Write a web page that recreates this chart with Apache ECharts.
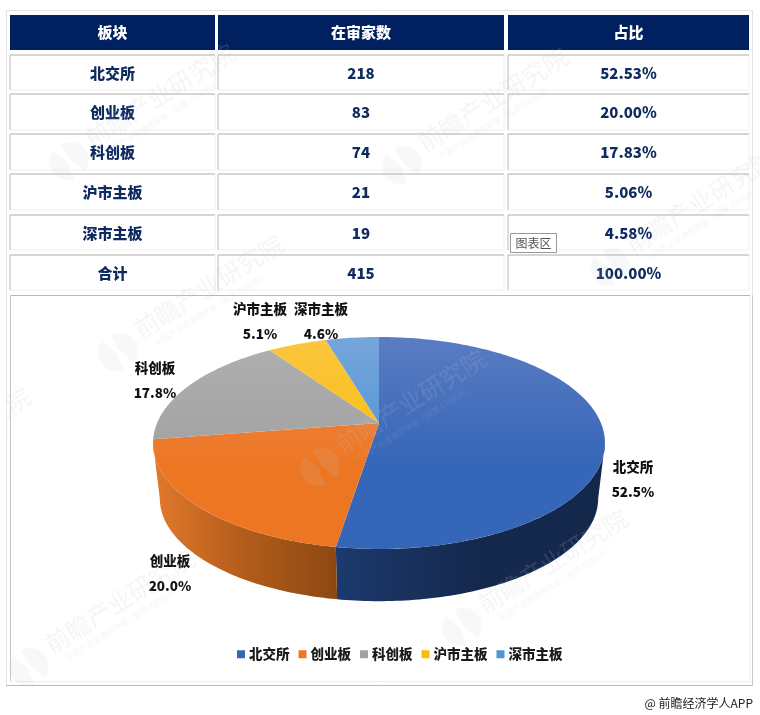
<!DOCTYPE html>
<html>
<head>
<meta charset="utf-8">
<style>
html, body { margin: 0; padding: 0; background: #fff; }
#main { width: 760px; height: 715px; }
</style>
<script src="https://cdn.jsdelivr.net/npm/echarts@6/dist/echarts.min.js"></script>
</head>
<body>
<div id="main"></div>
<script>
const tableHeaders = ['板块', '在审家数', '占比'];
const categories = ['北交所', '创业板', '科创板', '沪市主板', '深市主板'];
const counts = [218, 83, 74, 21, 19];
const ratioLabels = ['52.53%', '20.00%', '17.83%', '5.06%', '4.58%'];
const pieLabels = ['52.5%', '20.0%', '17.8%', '5.1%', '4.6%'];
const totalLabel = '合计';
const totalCount = 415;
const totalRatio = '100.00%';

const FONT = '"Noto Sans CJK SC", "Noto Sans", sans-serif';
const NAVY = '#0f2a5e';

// 饼图透视参数
const CX = 379, APEX = 423, TILT = 102.2, RADIUS = 221.9, PERSP = 0.1887;
const BOTTOM_SCALE = 0.97, BOTTOM_APEX = 479;
const FRONT_FROM = 100.9, FRONT_TO = 259.1;

const sliceColors = ['#3566b8', '#ed7623', '#a1a1a1', '#f8bd0b', '#4f96d6'];
const sliceTopColors = ['#5a7cc2', '#ee8d55', '#b0b0b0', '#fbc640', '#76a5da'];
const wallColors = [
    ['#1c3a6e', '#15294f', '#14284c'],
    ['#e2792b', '#b25c1b', '#8c4812'],
    ['#999', '#888', '#777'],
    ['#c09000', '#b08400', '#a07800'],
    ['#3a70a0', '#356690', '#305c85']
];
const labelAnchors = [[633, 467], [170, 561], [155, 368], [260, 309], [321, 309]];

const colX = [[10, 215], [218, 504], [508, 749]];
const rowY = [[55, 90], [94, 130], [134, 170], [174, 210], [215, 250], [255, 290]];
const watermarks = [[69, 161], [402, 165], [118, 352], [610, 267], [320, 467], [462, 627], [29, 667], [-135, 505]];

const total = counts.reduce((a, b) => a + b, 0);

function project(deg, scale, apex) {
    const t = deg * Math.PI / 180;
    const x = Math.sin(t), y = Math.cos(t);
    const w = 1 + PERSP * y;
    return [CX + scale * RADIUS * x / w, apex - scale * TILT * y / w];
}

function arc(from, to, scale, apex) {
    const pts = [];
    const n = Math.max(2, Math.ceil(to - from));
    for (let i = 0; i <= n; i++) {
        pts.push(project(from + (to - from) * i / n, scale, apex));
    }
    return pts;
}

function renderSlice(params, api) {
    const idx = params.seriesIndex;
    const before = counts.slice(0, idx).reduce((a, b) => a + b, 0);
    const start = before / total * 360;
    const end = start + api.value(0) / total * 360;
    const children = [];

    // 侧面
    const wallFrom = Math.max(start, FRONT_FROM);
    const wallTo = Math.min(end, FRONT_TO);
    if (wallTo > wallFrom) {
        const topEdge = arc(wallFrom, wallTo, 1, APEX);
        const bottomEdge = arc(wallFrom, wallTo, BOTTOM_SCALE, BOTTOM_APEX).reverse();
        children.push({
            type: 'polygon',
            shape: { points: topEdge.concat(bottomEdge) },
            style: {
                fill: {
                    type: 'linear', x: 0, y: 0, x2: 1, y2: 0,
                    colorStops: [
                        { offset: 0, color: wallColors[idx][0] },
                        { offset: 0.5, color: wallColors[idx][1] },
                        { offset: 1, color: wallColors[idx][2] }
                    ]
                }
            }
        });
    }

    // 顶面
    children.push({
        type: 'polygon',
        shape: { points: [[CX, APEX]].concat(arc(start, end, 1, APEX)) },
        style: {
            fill: {
                type: 'linear', global: true, x: 0, y: 337, x2: 0, y2: 465,
                colorStops: [
                    { offset: 0, color: sliceTopColors[idx] },
                    { offset: 1, color: sliceColors[idx] }
                ]
            }
        }
    });

    // 标签
    children.push({
        type: 'text',
        z2: 10,
        style: {
            x: labelAnchors[idx][0],
            y: labelAnchors[idx][1] - 12,
            text: categories[idx] + '\n' + pieLabels[idx],
            font: '900 13.5px ' + FONT,
            lineHeight: 24.5,
            fill: '#111',
            align: 'center',
            verticalAlign: 'top'
        }
    });
    return { type: 'group', children: children };
}

function cell(x0, x1, y0, y1, text) {
    return [
        { type: 'rect', shape: { x: x0, y: y0, width: x1 - x0, height: y1 - y0 }, style: { fill: '#fff', stroke: '#f0f0f0', lineWidth: 1 } },
        { type: 'line', shape: { x1: x0, y1: y0, x2: x1, y2: y0 }, style: { stroke: '#b4b4b4', lineWidth: 1.2 } },
        { type: 'line', shape: { x1: x0, y1: y0, x2: x0, y2: y1 }, style: { stroke: '#c0c0c0', lineWidth: 1 } },
        {
            type: 'text',
            style: {
                x: (x0 + x1) / 2, y: (y0 + y1) / 2 + 0.5, text: text, font: '900 15px ' + FONT,
                fill: NAVY, align: 'center', verticalAlign: 'middle'
            }
        }
    ];
}

function watermark(p) {
    const logoFill = 'rgba(195,200,212,0.13)';
    const textFill = 'rgba(190,195,205,0.17)';
    return {
        type: 'group', z: 60, x: p[0], y: p[1], rotation: 32 * Math.PI / 180,
        children: [
            { type: 'sector', z: 60, shape: { cx: -2, cy: 0, r: 18, r0: 0, startAngle: Math.PI * 0.55, endAngle: Math.PI * 1.4 }, style: { fill: logoFill } },
            { type: 'sector', z: 60, shape: { cx: 2, cy: 0, r: 18, r0: 0, startAngle: Math.PI * 1.5, endAngle: Math.PI * 2.4 }, style: { fill: logoFill } },
            { type: 'text', z: 60, style: { x: 26, y: -20, text: '前瞻产业研究院', font: '24.5px ' + FONT, fill: textFill } },
            { type: 'text', z: 60, style: { x: 36, y: 9, text: '中国产业咨询领导者（股票 839599）', font: '8px ' + FONT, fill: textFill } }
        ]
    };
}

function buildGraphics() {
    const g = [];
    // 外框
    g.push({ type: 'rect', shape: { x: 6.5, y: 10.5, width: 746, height: 675 }, style: { fill: '#fff', stroke: '#e4e4e4', lineWidth: 1 } });
    // 表头
    tableHeaders.forEach((h, i) => {
        g.push({ type: 'rect', shape: { x: colX[i][0], y: 15, width: colX[i][1] - colX[i][0], height: 35 }, style: { fill: '#00205f' } });
        g.push({
            type: 'text',
            style: {
                x: (colX[i][0] + colX[i][1]) / 2, y: 32.5, text: h, font: '900 15px ' + FONT,
                fill: '#fff', align: 'center', verticalAlign: 'middle'
            }
        });
    });
    // 表格内容
    const rows = categories.map((c, i) => [c, String(counts[i]), ratioLabels[i]]);
    rows.push([totalLabel, String(totalCount), totalRatio]);
    rows.forEach((r, ri) => {
        r.forEach((t, ci) => {
            g.push(...cell(colX[ci][0], colX[ci][1], rowY[ri][0], rowY[ri][1], t));
        });
    });
    // 图表区边框
    g.push({ type: 'rect', shape: { x: 10.5, y: 295.5, width: 739.5, height: 386 }, style: { fill: '#fff', stroke: '#eeeeee', lineWidth: 1 } });
    g.push({ type: 'line', shape: { x1: 10, y1: 295.5, x2: 750, y2: 295.5 }, style: { stroke: '#b8b8b8', lineWidth: 1 } });
    g.push({ type: 'line', shape: { x1: 10.5, y1: 295, x2: 10.5, y2: 681 }, style: { stroke: '#c4c4c4', lineWidth: 1 } });
    g.push({ type: 'line', shape: { x1: 6, y1: 685.5, x2: 753, y2: 685.5 }, style: { stroke: '#b8b8b8', lineWidth: 1 } });
    g.push({ type: 'line', shape: { x1: 752.5, y1: 295, x2: 752.5, y2: 686 }, style: { stroke: '#c8c8c8', lineWidth: 1 } });
    // 提示框
    g.push({ type: 'rect', z: 50, shape: { x: 510.5, y: 233.5, width: 46, height: 19 }, style: { fill: '#fff', stroke: '#999', lineWidth: 1 } });
    g.push({
        type: 'text', z: 51,
        style: { x: 533.5, y: 243, text: '图表区', font: '12px ' + FONT, fill: '#555', align: 'center', verticalAlign: 'middle' }
    });
    // 水印
    watermarks.forEach(p => g.push(watermark(p)));
    g.push({ type: 'rect', z: 61, shape: { x: 0, y: 0, width: 6, height: 715 }, style: { fill: '#fff' } });
    // 来源
    g.push({
        type: 'text',
        style: { x: 753, y: 703, text: '@ 前瞻经济学人APP', font: '12px ' + FONT, fill: '#222', align: 'right', verticalAlign: 'middle' }
    });
    return g;
}

const chart = echarts.init(document.getElementById('main'));
chart.setOption({
    animation: false,
    backgroundColor: '#fff',
    legend: {
        data: categories,
        left: 232,
        top: 642.5,
        icon: 'rect',
        itemWidth: 8,
        itemHeight: 8,
        itemGap: 9,
        selectedMode: false,
        textStyle: { fontFamily: FONT, fontSize: 13.5, fontWeight: 900, color: '#1a1a1a', padding: [0, 0, 0, -1] }
    },
    graphic: { elements: buildGraphics() },
    series: categories.map((name, i) => ({
        type: 'custom',
        name: name,
        coordinateSystem: 'none',
        silent: true,
        z: 20,
        itemStyle: { color: sliceColors[i] },
        data: [[counts[i]]],
        renderItem: renderSlice
    }))
});
window.addEventListener('resize', function () {
    chart.resize();
});
</script>
</body>
</html>
